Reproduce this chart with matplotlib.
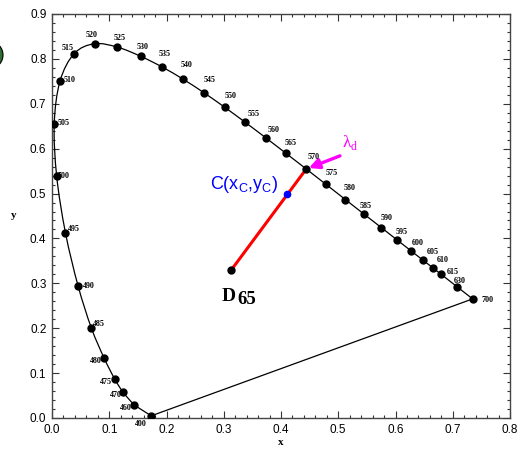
#!/usr/bin/env python3
# -*- coding: utf-8 -*-
"""CIE 1931 色度图 - 主波长示意 (D65 -> C -> λd)"""

import numpy as np
import matplotlib
matplotlib.use("Agg")
import matplotlib.pyplot as plt
from matplotlib.path import Path
from matplotlib.patches import PathPatch, Ellipse
from matplotlib.ticker import MultipleLocator

# 光谱轨迹 (波长 nm, 色度坐标 x, y)
wavelengths = [400, 460, 470, 475, 480, 485, 490, 495, 500, 505, 510, 515, 520,
               525, 530, 535, 540, 545, 550, 555, 560, 565, 570, 575, 580, 585,
               590, 595, 600, 605, 610, 615, 630, 700]
locus_x = [0.1733, 0.1440, 0.1241, 0.1096, 0.0913, 0.0687, 0.0454, 0.0235,
           0.0082, 0.0039, 0.0139, 0.0389, 0.0743, 0.1142, 0.1547, 0.1929,
           0.2296, 0.2658, 0.3016, 0.3373, 0.3731, 0.4087, 0.4441, 0.4788,
           0.5125, 0.5448, 0.5752, 0.6029, 0.6270, 0.6482, 0.6658, 0.6801,
           0.7079, 0.7347]
locus_y = [0.0048, 0.0297, 0.0578, 0.0868, 0.1327, 0.2007, 0.2950, 0.4127,
           0.5384, 0.6548, 0.7502, 0.8120, 0.8338, 0.8262, 0.8059, 0.7816,
           0.7543, 0.7243, 0.6923, 0.6589, 0.6245, 0.5896, 0.5547, 0.5202,
           0.4866, 0.4544, 0.4242, 0.3965, 0.3725, 0.3514, 0.3340, 0.3197,
           0.2920, 0.2653]

# 白点 D65 与样品色 C
d65 = (0.3127, 0.3290)
sample_c = (0.410, 0.500)
dominant_wl = 570

# 波长标注偏移 (像素, 图像坐标: 向右 +, 向下 +)
label_offsets = {
    400: (-10, 8), 460: (-9, 3), 470: (-7.5, 3), 475: (-9, 3), 480: (-8, 3),
    485: (8, -4), 490: (11, 0), 495: (8.5, -3.5), 500: (7, 0), 505: (9, -1),
    510: (9.5, -1), 515: (-7, -5.5), 520: (-3, -9), 525: (2, -9),
    530: (2.5, -9), 535: (2, -13), 540: (3, -14), 545: (5, -13),
    550: (6, -11), 555: (9, -8), 560: (8, -8), 565: (5, -10), 570: (7, -12),
    575: (6, -11.5), 580: (4, -11.5), 585: (2, -8), 590: (5, -9.5),
    595: (4, -8), 600: (7, -8), 605: (10, -8), 610: (10, -8),
    615: (11.5, -2.5), 630: (2, -6), 700: (15, 1),
}


def smooth_path(xs, ys):
    """Catmull-Rom 转三次贝塞尔, 用 Path 画平滑曲线"""
    pts = np.column_stack([xs, ys])
    ext = np.vstack([2 * pts[0] - pts[1], pts, 2 * pts[-1] - pts[-2]])
    verts = [tuple(pts[0])]
    codes = [Path.MOVETO]
    for i in range(1, len(ext) - 2):
        p0, p1, p2, p3 = ext[i - 1], ext[i], ext[i + 1], ext[i + 2]
        c1 = p1 + (p2 - p0) / 6.0
        c2 = p2 - (p3 - p1) / 6.0
        verts += [tuple(c1), tuple(c2), tuple(p2)]
        codes += [Path.CURVE4] * 3
    return Path(verts, codes)


def main():
    fig = plt.figure(figsize=(5.22, 4.49), dpi=100)
    ax = fig.add_axes([52 / 522, 1 - 418 / 449, 458 / 522, 404 / 449])

    # 左上角残缺的绿色标记
    fig.patches.append(Ellipse((-9 / 522, 1 - 55 / 449), 24 / 522, 26 / 449,
                               transform=fig.transFigure, facecolor="#2f6e2f",
                               edgecolor="black", lw=0.8, zorder=5))

    # 光谱轨迹 + 紫线
    ax.add_patch(PathPatch(smooth_path(locus_x, locus_y), fill=False,
                           edgecolor="black", lw=0.9, zorder=2))
    ax.plot([locus_x[-1], locus_x[0]], [locus_y[-1], locus_y[0]],
            color="black", lw=0.9, zorder=2)
    ax.plot(locus_x, locus_y, "o", color="black", ms=5, zorder=4)

    for wl, x, y in zip(wavelengths, locus_x, locus_y):
        dx, dy = label_offsets[wl]
        ax.annotate(str(wl), (x, y), xytext=(dx, -dy),
                    textcoords="offset pixels", ha="center", va="center",
                    fontsize=5.8, fontweight="bold",
                    family="Liberation Serif", zorder=5)

    # D65 -> 主波长点 红线
    i_dom = wavelengths.index(dominant_wl)
    ax.plot([d65[0], locus_x[i_dom]], [d65[1], locus_y[i_dom]],
            color="red", lw=2.2, zorder=3)
    ax.plot(*d65, "o", color="black", ms=5, zorder=4)
    ax.plot(*sample_c, "o", color="blue", ms=4.5, zorder=4)

    ax.annotate("D", d65, xytext=(-9, -31), textcoords="offset pixels",
                ha="left", va="baseline", fontsize=14, fontweight="bold",
                family="Liberation Serif")
    ax.annotate("65", d65, xytext=(6, -34), textcoords="offset pixels",
                ha="left", va="baseline", fontsize=13.5, fontweight="bold",
                family="Liberation Serif")

    ax.annotate(r"C(x$_\mathregular{C}$,y$_\mathregular{C}$)", sample_c,
                xytext=(-77, 9), textcoords="offset pixels", ha="left",
                va="center", fontsize=13, color="blue",
                family="Liberation Sans")

    # λd 箭头
    ax.annotate("", xy=(locus_x[i_dom], locus_y[i_dom]), xytext=(0.503, 0.584),
                arrowprops=dict(arrowstyle="-|>", color="magenta", lw=2.4,
                                mutation_scale=15, shrinkA=0, shrinkB=2))
    ax.text(0.506, 0.592, "λ$_\\mathregular{d}$", color="magenta",
            fontsize=12.5, family="Liberation Serif", ha="left", va="bottom")

    # 坐标轴
    ax.set_xlim(0, 0.8)
    ax.set_ylim(0, 0.9)
    ax.xaxis.set_major_locator(MultipleLocator(0.1))
    ax.yaxis.set_major_locator(MultipleLocator(0.1))
    ax.xaxis.set_minor_locator(MultipleLocator(0.02))
    ax.yaxis.set_minor_locator(MultipleLocator(0.02))
    ax.tick_params(which="both", direction="in", top=True, right=True,
                   width=0.8, color="#333333")
    ax.tick_params(which="major", length=5, labelsize=8.5, pad=4)
    ax.tick_params(which="minor", length=2.5)
    for lab in ax.get_xticklabels() + ax.get_yticklabels():
        lab.set_family("Liberation Sans")
    for sp in ax.spines.values():
        sp.set_color("#444444")
        sp.set_linewidth(1.0)

    ax.set_xlabel("x", fontsize=8, fontweight="bold", family="Liberation Serif",
                  labelpad=2)
    ax.set_ylabel("y", fontsize=8, fontweight="bold", family="Liberation Serif",
                  rotation=0, labelpad=12, va="center")

    fig.savefig("out.png", dpi=100)
    plt.close(fig)


if __name__ == "__main__":
    main()
